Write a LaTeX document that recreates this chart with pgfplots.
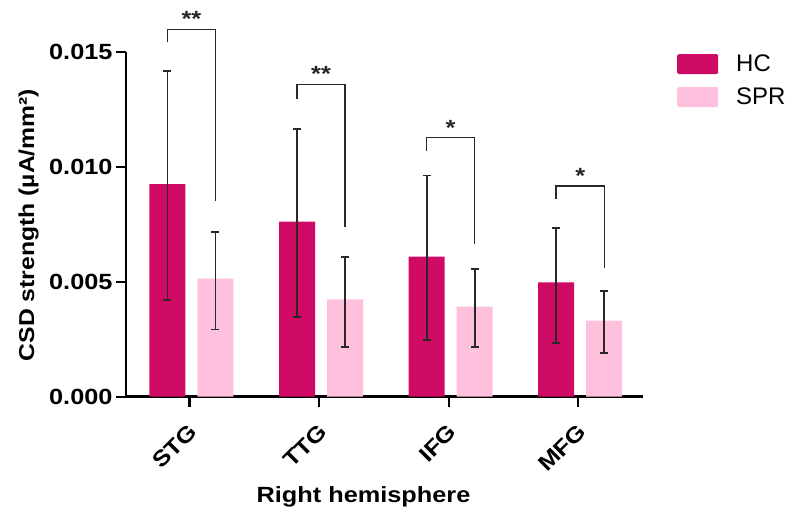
\documentclass[border=0pt]{standalone}
\usepackage{fontspec}
\setmainfont{Liberation Sans}[FakeStretch=1.15]
\newfontfamily\legfont{Liberation Sans}
\usepackage{pgfplots}
\pgfplotsset{compat=1.18}
\usepackage{pgfplotstable}
\definecolor{HC}{RGB}{206,10,100}
\definecolor{SPR}{RGB}{255,192,222}
\definecolor{ebar}{RGB}{40,40,40}

\pgfplotstableread{
x y ep em
0 0.00926 0.00494 0.00505
1 0.00762 0.00404 0.00416
2 0.00610 0.00353 0.00362
3 0.00498 0.00238 0.00263
}\hcdata
\pgfplotstableread{
x y ep em
0 0.00514 0.00202 0.00221
1 0.00424 0.00186 0.00206
2 0.00392 0.00165 0.00174
3 0.00331 0.00128 0.00142
}\sprdata

\newcommand{\lblfont}{\bfseries\fontsize{22bp}{26bp}\selectfont}

\begin{document}
\begin{tikzpicture}
\useasboundingbox (0,0) rectangle (793bp,512bp);
\begin{axis}[
  at={(126bp,115.3bp)}, anchor=south west,
  scale only axis, width=517bp, height=344.4bp,
  xmin=-0.49, xmax=3.5, ymin=0, ymax=0.015,
  axis x line*=bottom, axis y line*=left,
  axis line style={-, line width=2.6bp, black},
  clip=false,
  ytick={0,0.005,0.01,0.015}, scaled y ticks=false,
  yticklabel style={font=\lblfont, black, /pgf/number format/.cd, fixed, fixed zerofill, precision=3, assume math mode=true},
  xtick={0,1,2,3}, xticklabels={STG,TTG,IFG,MFG},
  xticklabel style={font=\lblfont, inner sep=0pt, xshift=4bp, yshift=-21bp, rotate=45, anchor=east},
  tick align=outside, major tick length=10bp,
  tick style={line width=2.2bp, black},
  ylabel={CSD strength (µA/mm²)},
  ylabel style={font=\bfseries\fontsize{21.5bp}{26bp}\selectfont, at={(axis description cs:-0.1886,0.4985)}, anchor=center},
  xlabel={Right hemisphere},
  xlabel style={font=\lblfont, at={(axis description cs:0.4594,-0.3078)}, anchor=base},
  ybar, bar width=36bp,
  legend style={at={(axis description cs:1.0658,0.995)}, anchor=north west,
    draw=none, fill=none, inner sep=0pt, row sep=13bp,
    font=\legfont\fontsize{24bp}{28bp}\selectfont,
    nodes={inner sep=0pt},
    /tikz/every odd column/.append style={column sep=18bp}},
  legend cell align=left,
]
\addplot[fill=HC, draw=none, bar shift=-22bp,
  legend image code/.code={\fill[HC, rounded corners=1.5bp] (0bp,-10bp) rectangle (41bp,10bp);},
  error bars/.cd, y dir=both, y explicit,
  error bar style={line width=1.8bp, ebar},
  error mark options={rotate=90, mark size=4bp, line width=1.8bp, ebar}]
  table[x=x, y=y, y error plus=ep, y error minus=em] {\hcdata};
\addlegendentry{HC}
\addplot[fill=SPR, draw=none, bar shift=26bp,
  legend image code/.code={\fill[SPR, rounded corners=1.5bp] (0bp,-10bp) rectangle (41bp,10bp);},
  error bars/.cd, y dir=both, y explicit,
  error bar style={line width=1.8bp, ebar},
  error mark options={rotate=90, mark size=4bp, line width=1.8bp, ebar}]
  table[x=x, y=y, y error plus=ep, y error minus=em] {\sprdata};
\addlegendentry{SPR}

% significance brackets
\addplot[sharp plot, no marks, line width=1.4bp, ebar, forget plot]
  coordinates {(-0.17,0.01543) (-0.17,0.01600) (0.201,0.01600) (0.201,0.00852)};
\addplot[sharp plot, no marks, line width=1.4bp, ebar, forget plot]
  coordinates {(0.83,0.01297) (0.83,0.01359) (1.201,0.01359) (1.201,0.00740)};
\addplot[sharp plot, no marks, line width=1.4bp, ebar, forget plot]
  coordinates {(1.83,0.01071) (1.83,0.01128) (2.201,0.01128) (2.201,0.00665)};
\addplot[sharp plot, no marks, line width=1.4bp, ebar, forget plot]
  coordinates {(2.83,0.00861) (2.83,0.00918) (3.201,0.00918) (3.201,0.00562)};

\node[font=\lblfont, text=ebar, anchor=base, inner sep=0pt] at (axis cs:0.0155,0.01612) {**};
\node[font=\lblfont, text=ebar, anchor=base, inner sep=0pt] at (axis cs:1.0155,0.01373) {**};
\node[font=\lblfont, text=ebar, anchor=base, inner sep=0pt] at (axis cs:2.0155,0.01137) {*};
\node[font=\lblfont, text=ebar, anchor=base, inner sep=0pt] at (axis cs:3.0155,0.00930) {*};
\end{axis}
\end{tikzpicture}
\end{document}
